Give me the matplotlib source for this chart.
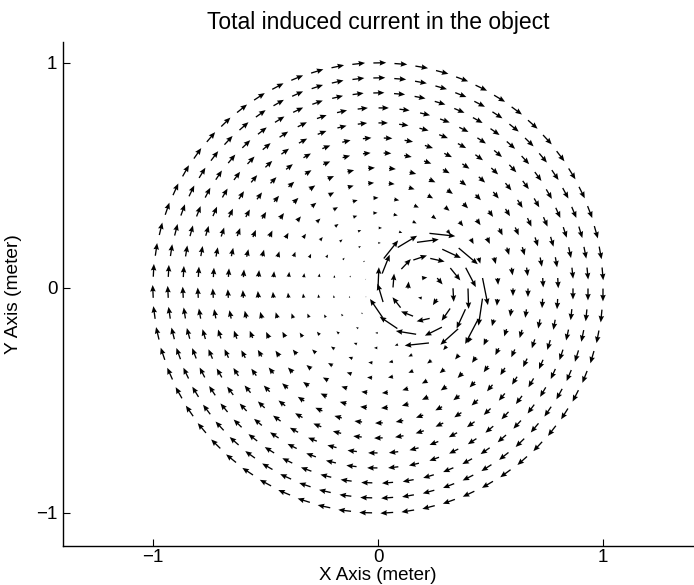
import numpy as np
import matplotlib
matplotlib.use("Agg")
import matplotlib.pyplot as plt

plt.rcParams['font.family'] = ['Liberation Sans', 'DejaVu Sans']

# ---- mesh description (concentric rings of nodes) ----
ring_radii = [k / 15 for k in range(1, 16)]
ring_counts = [5, 9, 14, 18, 23, 27, 32, 36, 41, 45, 50, 54, 59, 63, 67]
ring_arc_offset = 0.044          # arc offset of first node from the -x axis

# ---- field parameters ----
main_strength = 0.057            # clockwise rotation, arrow length per unit radius
vortex_center = (0.23, -0.01)
vortex_radius = 0.26
vortex_strength = 0.40

xticks = [-1, 0, 1]
yticks = [-1, 0, 1]
title = "Total induced current in the object"
xlabel = "X Axis (meter)"
ylabel = "Y Axis (meter)"

# ---- build node positions ----
xs, ys = [0.0], [0.0]
for r, n in zip(ring_radii, ring_counts):
    th = np.pi + ring_arc_offset / r + np.arange(n) * 2 * np.pi / n
    xs.extend(r * np.cos(th))
    ys.extend(r * np.sin(th))
X = np.array(xs)
Y = np.array(ys)

# main field: clockwise rotation about origin
U = main_strength * Y
V = -main_strength * X
# local clockwise circulation around the inclusion
dx = X - vortex_center[0]
dy = Y - vortex_center[1]
d = np.hypot(dx, dy)
inside = d < vortex_radius
U = U + np.where(inside, vortex_strength * dy, 0.0)
V = V + np.where(inside, -vortex_strength * dx, 0.0)

fig = plt.figure(figsize=(6.94, 5.85), dpi=100)
ax = fig.add_axes([63 / 694, 39 / 585, 630 / 694, 504 / 585])
ax.quiver(X, Y, U, V, angles='xy', scale_units='xy', scale=1,
          color='black', width=0.0021, headwidth=4.2, headlength=5.0,
          headaxislength=4.5, minlength=0.3)

ax.set_xlim(-1.4, 1.4)
ax.set_ylim(-1.147, 1.093)
ax.set_aspect('equal')
ax.set_xticks(xticks)
ax.set_yticks(yticks)
ax.tick_params(direction='in', length=5, width=0.8, labelsize=13.5)
ax.tick_params(axis='x', pad=2)
ax.tick_params(axis='y', pad=4)
for s in ['top', 'right']:
    ax.spines[s].set_visible(False)
for s in ['left', 'bottom']:
    ax.spines[s].set_linewidth(1.0)
ax.set_title(title, fontsize=16.5, pad=9)
ax.set_xlabel(xlabel, fontsize=13.5, labelpad=1)
ax.set_ylabel(ylabel, fontsize=13.8, labelpad=10)

fig.savefig("out.png", dpi=100)
